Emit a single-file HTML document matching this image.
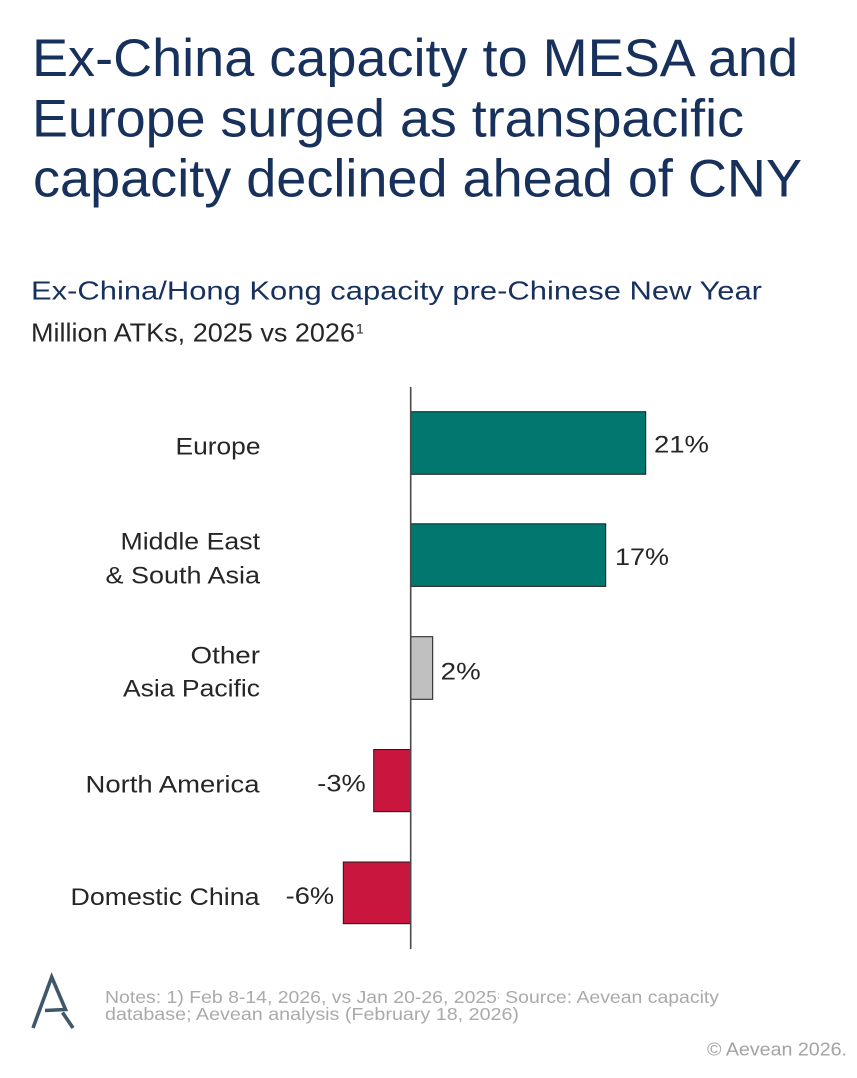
<!DOCTYPE html>
<html>
<head>
<meta charset="utf-8">
<style>
  html, body { margin: 0; padding: 0; background: #ffffff; }
  body { width: 857px; height: 1078px; overflow: hidden; }
  svg { display: block; }
  text { font-family: "Liberation Sans", Arial, sans-serif; }
</style>
</head>
<body>
<svg width="857" height="1078" viewBox="0 0 857 1078" xmlns="http://www.w3.org/2000/svg">
  <rect x="0" y="0" width="857" height="1078" fill="#ffffff"/>

  <!-- Title -->
  <g fill="#17305c" font-size="53">
    <text x="32" y="76" textLength="766" lengthAdjust="spacingAndGlyphs">Ex-China capacity to MESA and</text>
    <text x="32" y="136.5" textLength="712" lengthAdjust="spacingAndGlyphs">Europe surged as transpacific</text>
    <text x="33" y="196.5" textLength="769" lengthAdjust="spacingAndGlyphs">capacity declined ahead of CNY</text>
  </g>

  <!-- Subtitle -->
  <text x="31" y="299.5" font-size="26" fill="#17305c" textLength="731" lengthAdjust="spacingAndGlyphs">Ex-China/Hong Kong capacity pre-Chinese New Year</text>
  <text x="31" y="341.7" font-size="26" fill="#262626" textLength="324" lengthAdjust="spacingAndGlyphs">Million ATKs, 2025 vs 2026</text>
  <text x="356" y="333.5" font-size="14" fill="#262626">1</text>

  <!-- Bars -->
  <g stroke="#1b1b1b" stroke-width="1">
    <rect x="410.7" y="411.7" width="235" height="62.6" fill="#00776f"/>
    <rect x="410.7" y="523.8" width="195" height="62.6" fill="#00776f"/>
    <rect x="410.7" y="636.7" width="22" height="62.6" fill="#c0c0c0"/>
    <rect x="373.7" y="749.5" width="37" height="62.2" fill="#c8163f"/>
    <rect x="343.3" y="862" width="67.4" height="61.7" fill="#c8163f"/>
  </g>

  <!-- Axis -->
  <line x1="410.7" y1="387" x2="410.7" y2="949" stroke="#4a4a4a" stroke-width="1.6"/>

  <!-- Category labels -->
  <g font-size="24.5" fill="#262626">
    <text x="175.5" y="454.3" textLength="85" lengthAdjust="spacingAndGlyphs">Europe</text>
    <text x="120.5" y="549.3" textLength="139.5" lengthAdjust="spacingAndGlyphs">Middle East</text>
    <text x="105.5" y="583.3" textLength="154.5" lengthAdjust="spacingAndGlyphs">&amp; South Asia</text>
    <text x="190.5" y="663.3" textLength="69.5" lengthAdjust="spacingAndGlyphs">Other</text>
    <text x="123" y="696.7" textLength="137" lengthAdjust="spacingAndGlyphs">Asia Pacific</text>
    <text x="85.5" y="792.7" textLength="174" lengthAdjust="spacingAndGlyphs">North America</text>
    <text x="70.5" y="905" textLength="189" lengthAdjust="spacingAndGlyphs">Domestic China</text>
  </g>

  <!-- Value labels -->
  <g font-size="24.5" fill="#262626">
    <text x="654" y="452.7" textLength="55" lengthAdjust="spacingAndGlyphs">21%</text>
    <text x="615" y="565" textLength="54" lengthAdjust="spacingAndGlyphs">17%</text>
    <text x="440.7" y="679.3" textLength="40" lengthAdjust="spacingAndGlyphs">2%</text>
    <text x="317.3" y="791.7" textLength="48.5" lengthAdjust="spacingAndGlyphs">-3%</text>
    <text x="285.7" y="904" textLength="48.5" lengthAdjust="spacingAndGlyphs">-6%</text>
  </g>

  <!-- Logo -->
  <g stroke="#3e5869" stroke-width="3.6" fill="none" stroke-linecap="butt" stroke-linejoin="miter">
    <polyline points="33,1028 51.7,977 65.5,1009.5 45,1010.5"/>
    <line x1="62.5" y1="1012.5" x2="73" y2="1028"/>
  </g>

  <!-- Notes -->
  <g font-size="17.5" fill="#aaaaaa">
    <text x="105" y="1003" textLength="614" lengthAdjust="spacingAndGlyphs">Notes: 1) Feb 8-14, 2026, vs Jan 20-26, 2025<tspan font-size="9" dy="-5">;</tspan><tspan dy="5"> Source: Aevean capacity</tspan></text>
    <text x="105" y="1020" textLength="414" lengthAdjust="spacingAndGlyphs">database; Aevean analysis (February 18, 2026)</text>
    <text x="707" y="1055.5" font-size="18" textLength="140" lengthAdjust="spacingAndGlyphs" fill="#a3a3a3">© Aevean 2026.</text>
  </g>
</svg>
</body>
</html>
